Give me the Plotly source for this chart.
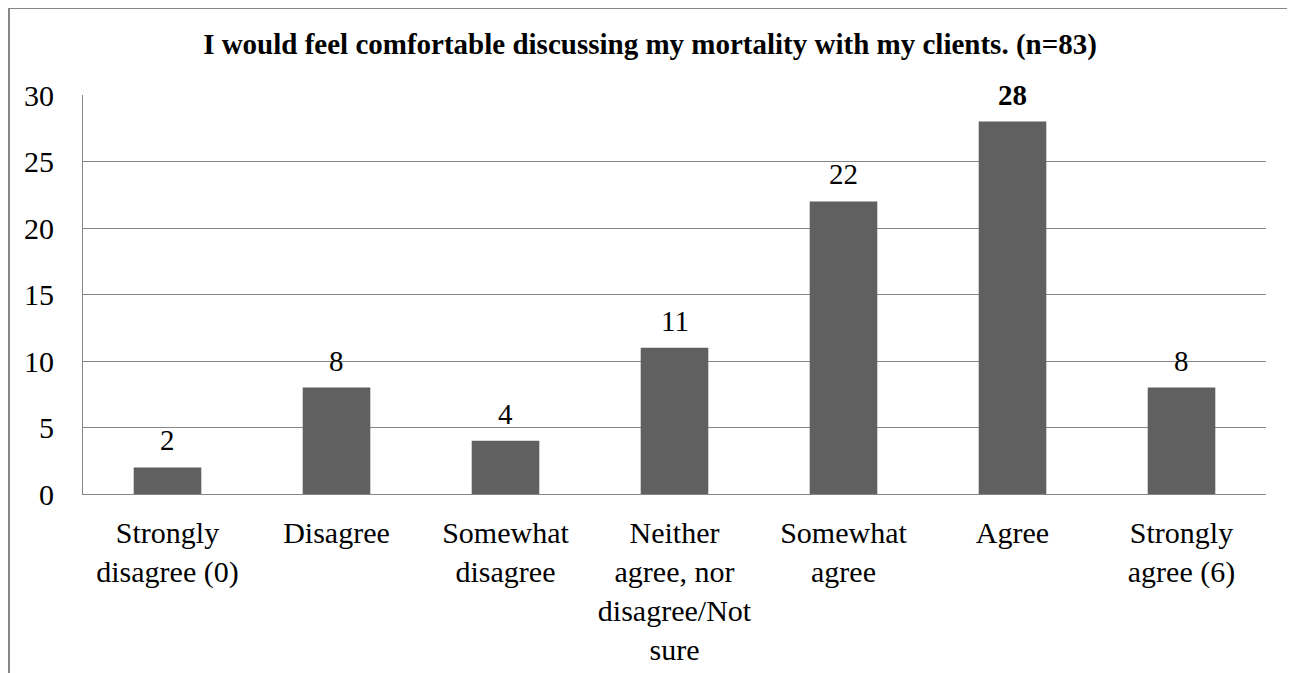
import plotly.graph_objects as go

categories = ["Strongly<br>disagree (0)", "Disagree", "Somewhat<br>disagree",
              "Neither<br>agree, nor<br>disagree/Not<br>sure", "Somewhat<br>agree",
              "Agree", "Strongly<br>agree (6)"]
counts = [2, 8, 4, 11, 22, 28, 8]
title_text = "I would feel comfortable discussing my mortality with my clients. (n=83)"
y_ticks = [0, 5, 10, 15, 20, 25, 30]

# page body has an 8px margin, so the figure is offset by 8px
OFF = 8
W, H = 1295 - OFF, 673 - OFF
ML, MR, MT, MB = 83 - OFF, 29, 95 - OFF, 179
PW, PH = W - ML - MR, H - MT - MB

FONT = "Liberation Serif, Times New Roman, serif"
GRID = "#868686"
BAR = "#606060"

fig = go.Figure(go.Bar(x=categories, y=counts, marker=dict(color=BAR, line=dict(width=0)),
                       width=0.4, hoverinfo="skip"))

peak = max(counts)
for c, v in zip(categories, counts):
    fig.add_annotation(x=c, y=v, text=f"<b>{v}</b>" if v == peak else str(v),
                       showarrow=False, yanchor="bottom", yshift=9,
                       font=dict(family=FONT, size=29, color="#000000"))

def px_x(p):
    return (p - ML) / PW

def px_y(p):
    return (H - MB - p) / PH

fig.add_shape(type="line", xref="paper", yref="paper",
              x0=px_x(1), x1=px_x(1), y0=px_y(0), y1=px_y(H + 10),
              line=dict(color=GRID, width=2))
fig.add_shape(type="line", xref="paper", yref="paper",
              x0=px_x(0), x1=px_x(W + 10), y0=px_y(0), y1=px_y(0),
              line=dict(color=GRID, width=2))

fig.update_layout(
    width=W, height=H,
    margin=dict(l=ML, r=MR, t=MT, b=MB, pad=0, autoexpand=False),
    paper_bgcolor="white", plot_bgcolor="white",
    showlegend=False,
    title=dict(text=f"<b>{title_text}</b>", x=(650 - OFF) / W, xanchor="center",
               y=1 - (44 - OFF) / H, yanchor="middle", yref="container",
               font=dict(family=FONT, size=29, color="#000000")),
    font=dict(family=FONT, size=30, color="#000000"),
    bargap=0.6,
)
fig.update_yaxes(range=[0, 30], tickvals=y_ticks, showgrid=True, gridcolor=GRID, gridwidth=1,
                 showline=True, linecolor=GRID, linewidth=1, ticks="", zeroline=False,
                 automargin=False,
                 ticklabelstandoff=22, tickfont=dict(family=FONT, size=30, color="#000000"))
fig.update_xaxes(showline=True, linecolor=GRID, linewidth=1, ticks="", showgrid=False,
                 tickangle=0, ticklabelstandoff=12, automargin=False,
                 tickfont=dict(family=FONT, size=30, color="#000000"))

fig.write_html("out.html")
